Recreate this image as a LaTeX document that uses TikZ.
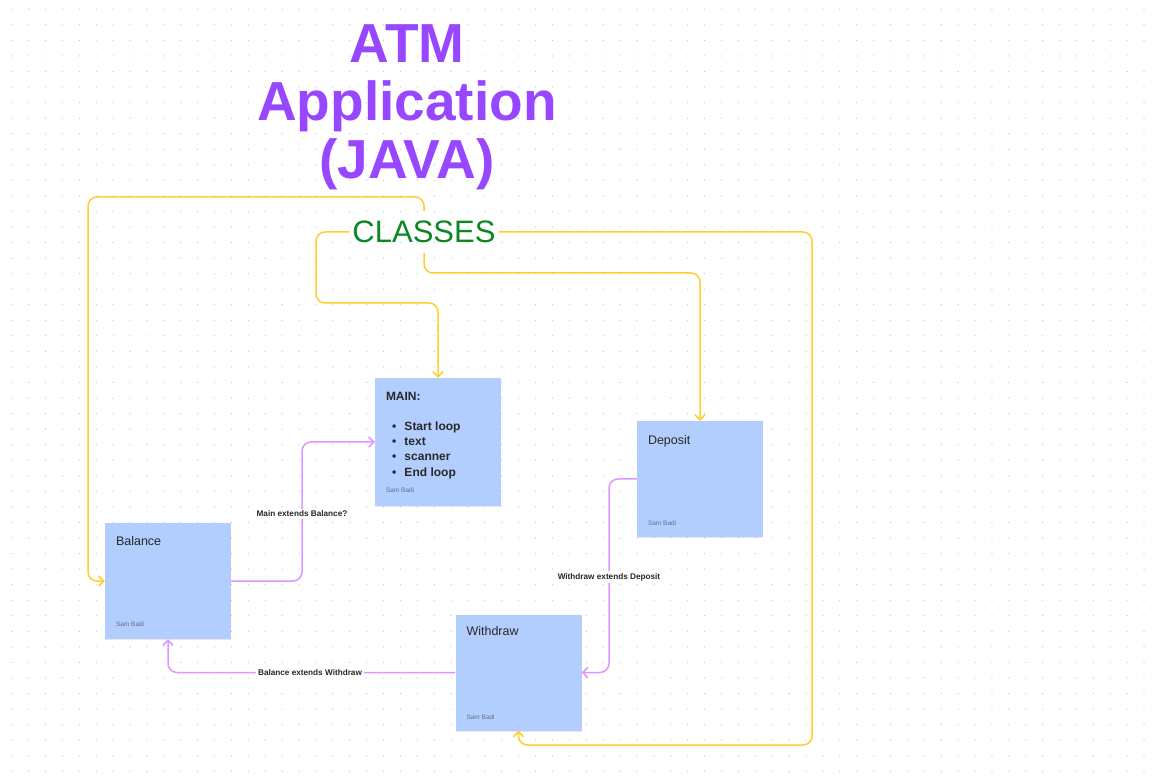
\documentclass[tikz,border=0pt]{standalone}
\usepackage{fontspec}
\setmainfont{Liberation Sans}
\usetikzlibrary{arrows.meta,positioning,shadows}
\definecolor{sticky}{RGB}{178,206,255}
\definecolor{titlepurple}{RGB}{151,71,255}
\definecolor{classgreen}{RGB}{12,135,36}
\definecolor{linkyellow}{RGB}{255,206,48}
\definecolor{linkviolet}{RGB}{222,150,255}
\definecolor{inkgray}{RGB}{40,40,40}
\definecolor{signgray}{RGB}{100,110,135}
\begin{document}
\begin{tikzpicture}[x=1pt,y=-1pt,
    note/.style={fill=sticky,minimum width=126pt,minimum height=116pt,inner sep=0pt,
      drop shadow={shadow xshift=0pt,shadow yshift=-1.2pt,opacity=0.18}},
    head/.style={inner sep=0pt,anchor=north west,text=inkgray,font=\fontsize{12.5}{15}\selectfont},
    sign/.style={inner sep=0pt,anchor=south west,text=signgray,font=\fontsize{6.5}{8}\selectfont},
    yel/.style={draw=linkyellow,line width=1.5pt,rounded corners=9pt,-{Straight Barb[length=5pt,width=10pt]}},
    vio/.style={draw=linkviolet,line width=1.5pt,rounded corners=9pt,-{Straight Barb[length=5pt,width=10pt]}},
    lbl/.style={fill=white,inner sep=2pt,text=inkgray,font=\fontsize{8.2}{10}\selectfont\bfseries}]
  \def\itm#1{\makebox[12.5pt][l]{\textbullet}#1}
  \fill[white] (0,0) rectangle (1152,783);
  \useasboundingbox (0,0) rectangle (1152,783);
  % dot grid
  \foreach \i in {0,...,67}
    \foreach \j in {0,...,50}
      \fill[gray!45] (11.7+16.9*\i,9.3+15.55*\j) circle (0.65);
  % title
  \node[font=\fontsize{55}{58}\selectfont\bfseries,text=titlepurple,align=center,inner sep=0pt,anchor=north] (title) at (407,24) {ATM\\Application\\(JAVA)};
  \node[font=\fontsize{31}{36}\selectfont,text=classgreen,inner xsep=3pt,inner ysep=10pt] (classes) at (424,232) {CLASSES};
  % sticky notes
  \node[note,minimum height=128pt] (main) at (438,442) {};
  \node[note] (bal) at (168,581) {};
  \node[note] (dep) at (700,479) {};
  \node[note] (wd) at (518.5,672.5) {};
  \node[head,font=\fontsize{12}{15}\selectfont\bfseries,below right=14pt and 11pt of main.north west] (mainhead) {MAIN:};
  \node[head,font=\fontsize{12}{15.3}\selectfont\bfseries,align=left,below right=43.5pt and 17pt of main.north west] (mainlist) {\itm{Start loop}\\\itm{text}\\\itm{scanner}\\\itm{End loop}};
  \node[head,below right=13pt and 11pt of bal.north west] (balhead) {Balance};
  \node[head,below right=14pt and 11pt of dep.north west] (dephead) {Deposit};
  \node[head,below right=12pt and 11pt of wd.north west] (wdhead) {Withdraw};
  \node[sign,above right=13pt and 11pt of main.south west] (mainsign) {Sam Badi};
  \node[sign,above right=12pt and 11pt of bal.south west] (balsign) {Sam Badi};
  \node[sign,above right=11pt and 11pt of dep.south west] (depsign) {Sam Badi};
  \node[sign,above right=11pt and 11pt of wd.south west] (wdsign) {Sam Badi};
  % class links
  \coordinate (k1) at (88,197);
  \coordinate (k2) at (316,303);
  \coordinate (k3) at (700,273);
  \coordinate (k4) at (812,745);
  \draw[yel] (classes.north) |- (k1) |- (bal.west);
  \draw[yel] (classes.west) -| (k2) -| (main.north);
  \draw[yel] (classes.south) |- (k3) -- (dep.north);
  \draw[yel] (classes.east) -| (k4) -| (wd.south);
  % extends links
  \coordinate (k5) at (302,514);
  \coordinate (k6) at (609,577);
  \draw[vio] (bal.east) -| (k5) |- (main.west);
  \draw[vio] (dep.west) -| (k6) |- (wd.east);
  \draw[vio] (wd.west) -| (bal.south);
  \node[lbl] (l5) at (k5) {Main extends Balance?};
  \node[lbl] (l6) at (k6) {Withdraw extends Deposit};
  \node[lbl] (l7) at (310,672.5) {Balance extends Withdraw};
\end{tikzpicture}
\end{document}
